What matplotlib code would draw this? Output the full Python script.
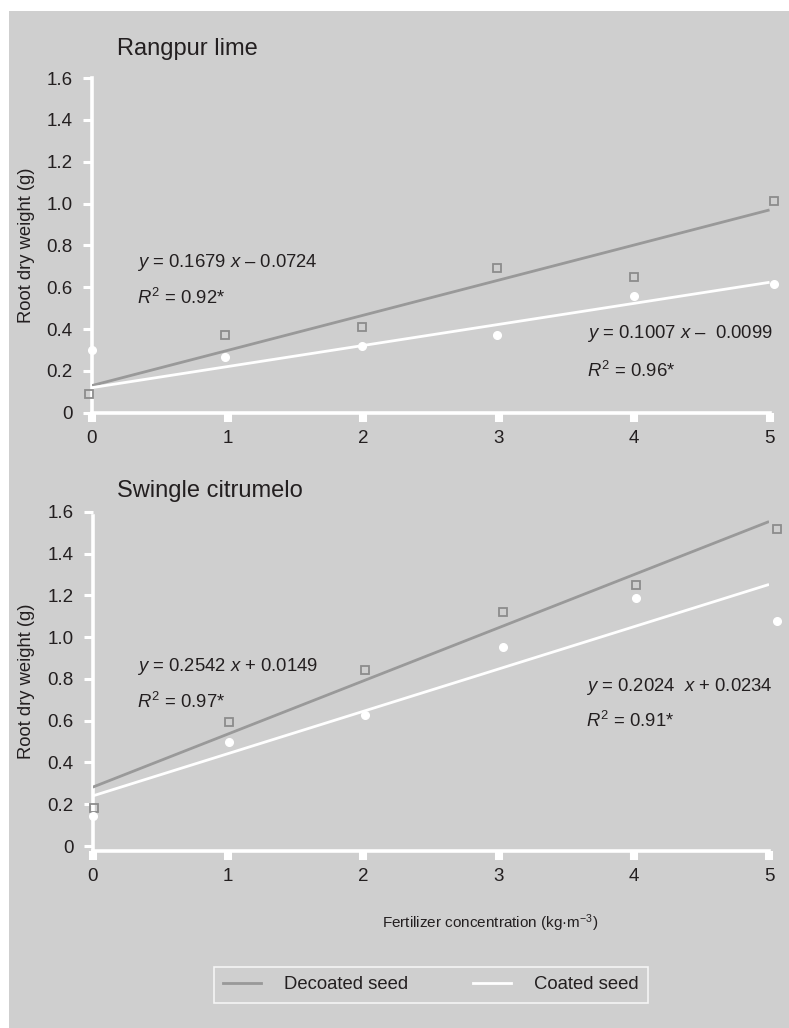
import numpy as np
import matplotlib.pyplot as plt
from matplotlib.lines import Line2D
from matplotlib.patches import Rectangle

plt.rcParams['font.family'] = ['Liberation Sans', 'DejaVu Sans']
plt.rcParams['mathtext.fontset'] = 'custom'
plt.rcParams['mathtext.rm'] = 'Liberation Sans'
plt.rcParams['mathtext.it'] = 'Liberation Sans:italic'

# --- data ---
doses = [0, 1, 2, 3, 4, 5]
yticks = [0, 0.2, 0.4, 0.6, 0.8, 1.0, 1.2, 1.4, 1.6]
ytick_labels = ['0', '0.2', '0.4', '0.6', '0.8', '1.0', '1.2', '1.4', '1.6']

titles = ['Rangpur lime', 'Swingle citrumelo']

# marker x positions (slightly off the ticks in the original)
x_dec = [[-0.02, 0.98, 1.99, 2.99, 4.0, 5.03], [0.01, 1.01, 2.01, 3.03, 4.02, 5.06]]
x_coat = [[0.0, 0.985, 1.99, 2.99, 4.0, 5.03], [0.0, 1.01, 2.01, 3.03, 4.02, 5.06]]

decoated = [[0.09, 0.37, 0.41, 0.69, 0.65, 1.01],
            [0.183, 0.594, 0.845, 1.122, 1.248, 1.516]]
coated = [[0.30, 0.265, 0.32, 0.372, 0.56, 0.615],
          [0.143, 0.497, 0.629, 0.952, 1.186, 1.078]]

# fitted lines as drawn
slope_dec = [0.1679, 0.2542]
icpt_dec = [0.13, 0.282]
slope_coat = [0.1007, 0.2024]
icpt_coat = [0.12, 0.24]

eq_left = [r'$y$ = 0.1679 $x$ – 0.0724', r'$y$ = 0.2542 $x$ + 0.0149']
r2_left = [r'$R^2$ = 0.92*', r'$R^2$ = 0.97*']
eq_right = [r'$y$ = 0.1007 $x$ –  0.0099', r'$y$ = 0.2024  $x$ + 0.0234']
r2_right = [r'$R^2$ = 0.96*', r'$R^2$ = 0.91*']
eq_left_y = [(0.716, 0.55), (0.86, 0.69)]
eq_right_y = [(0.38, 0.20), (0.764, 0.597)]

# --- styling ---
bg = '#cfcfcf'
txt = '#231f20'
gline = '#999999'
gmark = '#8c8c8c'
fs = 13.3

fig = plt.figure(figsize=(7.89, 10.28), dpi=100)
fig.patch.set_facecolor('white')
fig.patches.append(Rectangle((9 / 789, 0), 1 - 9 / 789, 1 - 11 / 1028,
                             transform=fig.transFigure, facecolor=bg,
                             edgecolor='none', zorder=-10))

ax_pos = [[0.1166, 0.5985, 0.8587, 0.3256], [0.1175, 0.1725, 0.8572, 0.3297]]
ylims = [(0, 1.6), (-0.022, 1.6)]
title_y = [49, 491]

for i in range(2):
    ax = fig.add_axes(ax_pos[i])
    ax.set_facecolor('none')
    ax.set_xlim(0, 5)
    ax.set_ylim(*ylims[i])
    for s in ['top', 'right']:
        ax.spines[s].set_visible(False)
    for s in ['left', 'bottom']:
        ax.spines[s].set_color('white')
        ax.spines[s].set_linewidth(2.6)
    if i == 1:
        ax.spines['left'].set_bounds(ylims[i][0], 1.58)

    ax.set_xticks(doses)
    ax.set_xticklabels([str(d) for d in doses])
    ax.set_yticks(yticks)
    ax.set_yticklabels(ytick_labels)
    ax.tick_params(axis='x', length=6.5, width=5.8, color='white', pad=6,
                   labelsize=13.5, labelcolor=txt)
    ax.tick_params(axis='y', length=6.5, width=2.2, color='white', pad=7.5,
                   labelsize=13.5, labelcolor=txt)

    xx = np.array([0, 5])
    ax.plot(xx, icpt_dec[i] + slope_dec[i] * xx, color=gline, lw=2.0,
            solid_capstyle='butt', zorder=3)
    ax.plot(xx, icpt_coat[i] + slope_coat[i] * xx, color='white', lw=2.0,
            solid_capstyle='butt', zorder=3)
    ax.plot(x_dec[i], decoated[i], ls='none', marker='s', ms=6,
            mfc='none', mec=gmark, mew=1.3, clip_on=False, zorder=4)
    ax.plot(x_coat[i], coated[i], ls='none', marker='o', ms=5.5,
            mfc='white', mec='white', clip_on=False, zorder=4)

    ax.text(0.33, eq_left_y[i][0], eq_left[i], fontsize=fs, color=txt,
            va='center', ha='left')
    ax.text(0.33, eq_left_y[i][1], r2_left[i], fontsize=fs, color=txt,
            va='center', ha='left')
    ax.text(3.65, eq_right_y[i][0], eq_right[i], fontsize=fs, color=txt,
            va='center', ha='left')
    ax.text(3.65, eq_right_y[i][1], r2_right[i], fontsize=fs, color=txt,
            va='center', ha='left')

    fig.text(117 / 789, 1 - title_y[i] / 1028, titles[i], fontsize=17,
             color=txt, ha='left', va='center')
    pos = ax.get_position()
    fig.text(27 / 789, pos.y0 + pos.height / 2, 'Root dry weight (g)',
             rotation=90, fontsize=13.2, color=txt, ha='center', va='center')

fig.text(490 / 789, 1 - 923 / 1028, 'Fertilizer concentration (kg·m$^{-3}$)',
         fontsize=11, color=txt, ha='center', va='center')

handles = [Line2D([], [], color=gline, lw=2.0), Line2D([], [], color='white', lw=2.0)]
leg = fig.legend(handles, ['Decoated seed', 'Coated seed'], ncol=2,
                 loc='center', bbox_to_anchor=(0.546, 0.0419), fontsize=fs,
                 frameon=True, fancybox=False, handlelength=2.04,
                 handletextpad=1.26, columnspacing=3.5, borderpad=0.5)
leg.get_frame().set_facecolor('none')
leg.get_frame().set_edgecolor('white')
leg.get_frame().set_linewidth(1.2)
for t in leg.get_texts():
    t.set_color(txt)

fig.savefig('out.png', dpi=100)
